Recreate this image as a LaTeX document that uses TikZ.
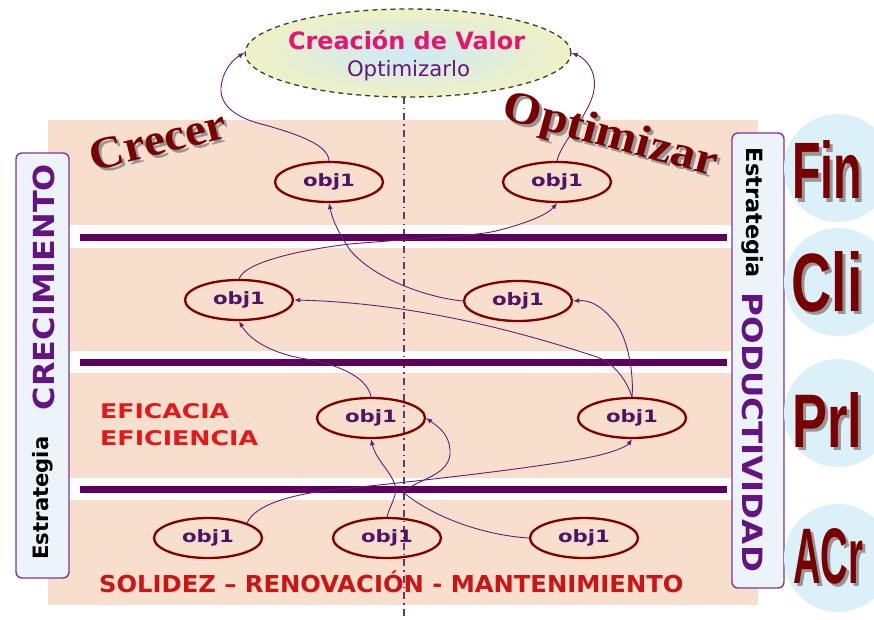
\documentclass[tikz,border=0pt]{standalone}
\usepackage{fontspec}
\setmainfont{DejaVu Sans}
\newfontfamily\serifb{Liberation Serif}
\newfontfamily\sansb{Liberation Sans}
\usetikzlibrary{shapes.geometric,arrows.meta}
\definecolor{peach}{RGB}{248,222,204}
\definecolor{barc}{RGB}{94,0,94}
\definecolor{connc}{RGB}{100,30,120}
\definecolor{objred}{RGB}{128,0,0}
\definecolor{objtxt}{RGB}{80,20,100}
\definecolor{boxc}{RGB}{125,55,150}
\definecolor{boxfill}{RGB}{236,244,250}
\definecolor{bubblec}{RGB}{220,240,250}
\definecolor{bigred}{RGB}{120,0,0}
\definecolor{shadowc}{RGB}{150,150,150}
\definecolor{purp}{RGB}{100,20,130}
\definecolor{titlepink}{RGB}{230,20,110}
\definecolor{redt}{RGB}{225,25,25}
\definecolor{dashc}{RGB}{110,50,110}
\begin{document}
\begin{tikzpicture}[x=1pt,y=-1pt,
  obj/.style={ellipse, draw=objred, line width=2.3pt, minimum width=108pt, minimum height=40pt, inner sep=0pt, text=objtxt, font=\fontsize{17}{17}\selectfont\bfseries},
  conn/.style={draw=connc, line width=0.9pt, -{Latex[length=6pt,width=5pt]}},
  barline/.style={draw=barc, line width=7pt},
  side/.style={draw=boxc, line width=1.4pt, fill=boxfill, rounded corners=6pt, rectangle, inner sep=0pt},
  bubble/.style={circle, fill=bubblec, draw=none, minimum size=108pt, inner sep=0pt},
  bigtxt/.style={text=bigred, inner sep=0pt},
  shad/.style={text=shadowc, inner sep=0pt},
  plain/.style={inner sep=0pt},
]
\useasboundingbox (0,0) rectangle (874,620);
\fill[white] (0,0) rectangle (874,620);
% background
\fill[peach] (48,120) rectangle (758,605);
\fill[white] (48,225) rectangle (758,248);
\fill[white] (48,351) rectangle (758,373);
\fill[white] (48,478) rectangle (758,500);
% title ellipse
\node[ellipse, minimum width=326pt, minimum height=88pt, inner sep=0pt,
      draw={rgb,255:red,60;green,60;blue,50}, line width=1.3pt, dash pattern=on 5pt off 4pt,
      shading=radial, inner color={rgb,255:red,205;green,234;blue,246},
      outer color={rgb,255:red,240;green,241;blue,196}] (V) at (408,53) {};
\node[anchor=base, text=titlepink, plain] (t1) at (406.5,50) {\resizebox{237pt}{!}{\bfseries Creación de Valor}};
\node[anchor=base, text=purp, plain] (t2) at (408.5,77) {\resizebox{123pt}{!}{Optimizarlo}};
% dash-dot axis
\coordinate (dt) at (404,97);
\coordinate (db) at (404,620);
\draw[dashc, line width=1.2pt, dash pattern=on 7pt off 4pt on 1.5pt off 4pt] (dt) -- (db);
% thick bars
\coordinate (l1a) at (80,237); \coordinate (l1b) at (727,237);
\coordinate (l2a) at (80,362); \coordinate (l2b) at (727,362);
\coordinate (l3a) at (80,489); \coordinate (l3b) at (727,489);
\draw[barline] (l1a) -- (l1b);
\draw[barline] (l2a) -- (l2b);
\draw[barline] (l3a) -- (l3b);
% objectives
\node[obj] (A1) at (329,182) {\scalebox{1.25}[1]{obj1}};
\node[obj] (A2) at (557,182) {\scalebox{1.25}[1]{obj1}};
\node[obj] (B1) at (239,300) {\scalebox{1.25}[1]{obj1}};
\node[obj] (B2) at (518,301) {\scalebox{1.25}[1]{obj1}};
\node[obj] (C1) at (371,418) {\scalebox{1.25}[1]{obj1}};
\node[obj] (C2) at (632,418) {\scalebox{1.25}[1]{obj1}};
\node[obj] (D1) at (208,538) {\scalebox{1.25}[1]{obj1}};
\node[obj] (D2) at (387,538) {\scalebox{1.25}[1]{obj1}};
\node[obj] (D3) at (584,538) {\scalebox{1.25}[1]{obj1}};
% connectors
\draw[conn] (A1.north) .. controls (328,145) and (300,135) .. (265,125)
  .. controls (235,118) and (220,105) .. (221,88)
  .. controls (222,72) and (232,60) .. (V.west);
\draw[conn] (A2.north) .. controls (562,140) and (590,115) .. (594,90)
  .. controls (597,70) and (585,58) .. (V.east);
\draw[conn] (B1.north) .. controls (245,262) and (300,250) .. (350,244)
  .. controls (420,238) and (480,236) .. (500,230)
  .. controls (530,222) and (548,214) .. (A2.south);
\draw[conn] (B2.west) .. controls (430,298) and (375,280) .. (350,250)
  .. controls (340,235) and (333,222) .. (A1.south);
\draw[conn] (C2.north) .. controls (628,385) and (618,365) .. (597,357)
  .. controls (530,335) and (420,303) .. (B1.east);
\draw[conn] (C2.north) .. controls (634,375) and (628,335) .. (613,320)
  .. controls (600,305) and (590,300) .. (B2.east);
\draw[conn] (C1.north) .. controls (368,380) and (345,365) .. (300,358)
  .. controls (270,352) and (250,340) .. (B1.south);
\draw[conn] (D1.north east) .. controls (255,505) and (290,494) .. (340,489)
  .. controls (430,480) and (560,465) .. (600,455)
  .. controls (620,450) and (628,445) .. (C2.south);
\draw[conn] (D2.north) .. controls (390,505) and (398,495) .. (395,485)
  .. controls (390,470) and (376,460) .. (C1.south);
\draw[conn] (D3.west) .. controls (480,535) and (430,515) .. (403,492)
  .. controls (420,478) and (452,475) .. (450,450)
  .. controls (449,435) and (440,428) .. (C1.east);
% area labels
\node[anchor=base west, text=redt, plain] (ef1) at (100,418) {\resizebox{129pt}{15pt}{\bfseries EFICACIA}};
\node[anchor=base west, text=redt, plain] (ef2) at (100,445) {\resizebox{158pt}{15pt}{\bfseries EFICIENCIA}};
\node[anchor=base west, text={rgb,255:red,205;green,20;blue,20}, plain] (sol) at (99,592)
  {\scalebox{1.04}[1]{\fontsize{23.3}{24}\selectfont\bfseries SOLIDEZ – RENOVACIÓN - MANTENIMIENTO}};
% Crecer / Optimizar
\node[shad, rotate=14] (creS) at (161,143) {\scalebox{1.06}[1]{\fontsize{45}{45}\serifb\bfseries Crecer}};
\node[bigtxt, rotate=14] (cre) at (158,140) {\scalebox{1.06}[1]{\fontsize{45}{45}\serifb\bfseries Crecer}};
\node[shad, rotate=-15] (optS) at (613,140) {\scalebox{1.1}[1]{\fontsize{45}{45}\serifb\bfseries Optimizar}};
\node[bigtxt, rotate=-15] (opt) at (610,137) {\scalebox{1.1}[1]{\fontsize{45}{45}\serifb\bfseries Optimizar}};
% side boxes
\node[side, minimum width=53pt, minimum height=425pt] (LB) at (42.5,365.5) {};
\node[side, minimum width=52pt, minimum height=455pt] (RB) at (758,360.5) {};
\node[plain, rotate=90] (estL) at (43,498) {\resizebox{123pt}{!}{\bfseries Estrategia}};
\node[plain, rotate=90, text=purp] (creL) at (44,287) {\scalebox{1.1}[1]{\fontsize{29}{29}\selectfont\bfseries CRECIMIENTO}};
\node[plain, rotate=-90] (estR) at (753,213) {\resizebox{130pt}{!}{\bfseries Estrategia}};
\node[plain, rotate=-90, text=purp] (proR) at (753,432.5) {\scalebox{1.16}[1]{\fontsize{28}{28}\selectfont\bfseries PODUCTIVIDAD}};
% perspective bubbles
\node[bubble] (cF) at (838,168) {};
\node[bubble] (cC) at (838,282) {};
\node[bubble] (cP) at (838,413) {};
\node[bubble] (cA) at (838,558) {};
\node[shad] (finS) at (830,173) {\resizebox{70pt}{58pt}{\sansb\bfseries Fin}};
\node[bigtxt] (fin) at (827,170) {\resizebox{70pt}{58pt}{\sansb\bfseries Fin}};
\node[shad] (cliS) at (830,285) {\resizebox{71pt}{60pt}{\sansb\bfseries Cli}};
\node[bigtxt] (cli) at (827,282) {\resizebox{71pt}{60pt}{\sansb\bfseries Cli}};
\node[shad] (prlS) at (830,423) {\resizebox{70pt}{55pt}{\sansb\bfseries Prl}};
\node[bigtxt] (prl) at (827,420) {\resizebox{70pt}{55pt}{\sansb\bfseries Prl}};
\node[shad] (acrS) at (831,559) {\resizebox{70pt}{55pt}{\sansb\bfseries ACr}};
\node[bigtxt] (acr) at (828,556) {\resizebox{70pt}{55pt}{\sansb\bfseries ACr}};
\end{tikzpicture}
\end{document}
